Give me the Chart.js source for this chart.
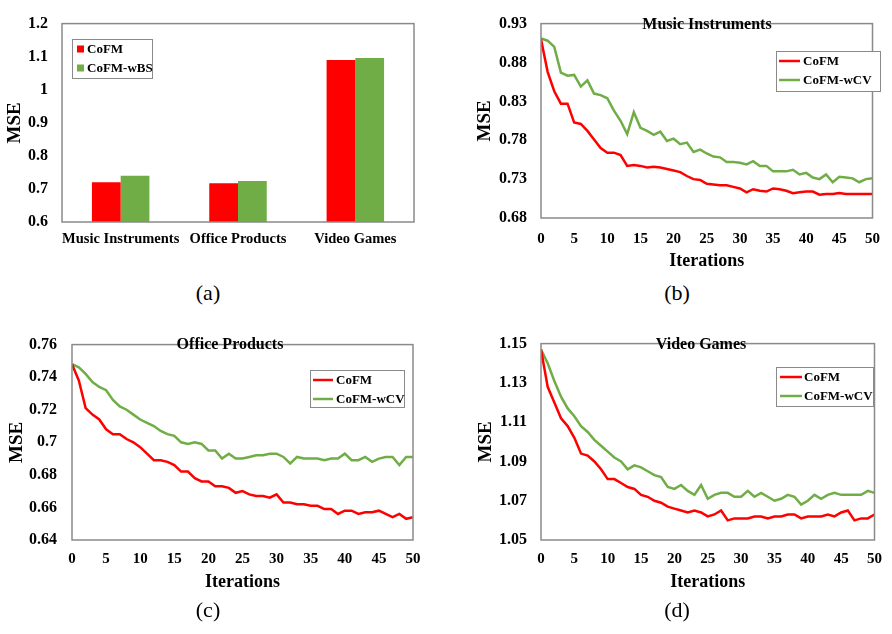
<!DOCTYPE html>
<html><head><meta charset="utf-8">
<script src="https://cdn.jsdelivr.net/npm/chart.js@4"></script>
<style>
body{margin:0;background:#fff;width:892px;height:634px;position:relative;overflow:hidden}
canvas{position:absolute}
.cap{position:absolute;font-family:"Liberation Serif",serif;font-size:22px;transform:translate(-50%,-50%);line-height:1}
</style></head><body>
<canvas id="ca" width="440" height="270" style="left:0;top:0"></canvas>
<canvas id="cb" width="432" height="280" style="left:460px;top:0"></canvas>
<canvas id="cc" width="440" height="290" style="left:0;top:320px"></canvas>
<canvas id="cd" width="442" height="290" style="left:450px;top:320px"></canvas>
<div class="cap" style="left:208px;top:293px">(a)</div>
<div class="cap" style="left:677px;top:293px">(b)</div>
<div class="cap" style="left:208px;top:610px">(c)</div>
<div class="cap" style="left:677px;top:610px">(d)</div>
<script>
// ---------- data ----------
const BAR_CATEGORIES = ['Music Instruments', 'Office Products', 'Video Games'];
const BAR_COFM = [0.72, 0.717, 1.09];
const BAR_COFM_WBS = [0.74, 0.724, 1.096];
const BAR_Y_TICKS = [0.6, 0.7, 0.8, 0.9, 1, 1.1, 1.2];

const ITERATIONS = [0,1,2,3,4,5,6,7,8,9,10,11,12,13,14,15,16,17,18,19,20,21,22,23,24,25,26,27,28,29,30,31,32,33,34,35,36,37,38,39,40,41,42,43,44,45,46,47,48,49,50];
const X_TICKS = [0,5,10,15,20,25,30,35,40,45,50];

const MUSIC_COFM = [0.910,0.868,0.843,0.827,0.827,0.803,0.801,0.792,0.781,0.770,0.764,0.764,0.761,0.747,0.748,0.747,0.745,0.746,0.745,0.743,0.741,0.739,0.734,0.730,0.729,0.724,0.723,0.722,0.722,0.720,0.718,0.713,0.717,0.715,0.714,0.718,0.717,0.715,0.712,0.713,0.714,0.714,0.710,0.711,0.711,0.712,0.711,0.711,0.711,0.711,0.711];
const MUSIC_WCV = [0.911,0.908,0.900,0.867,0.863,0.864,0.849,0.857,0.840,0.838,0.834,0.818,0.805,0.788,0.816,0.796,0.792,0.787,0.791,0.779,0.782,0.775,0.777,0.765,0.768,0.763,0.759,0.758,0.752,0.752,0.751,0.749,0.753,0.747,0.747,0.740,0.740,0.740,0.742,0.736,0.738,0.732,0.730,0.736,0.726,0.733,0.732,0.731,0.726,0.730,0.731];
const MUSIC_Y_TICKS = [0.68, 0.73, 0.78, 0.83, 0.88, 0.93];

const OFFICE_COFM = [0.748,0.738,0.721,0.717,0.714,0.708,0.705,0.705,0.702,0.700,0.697,0.693,0.689,0.689,0.688,0.686,0.682,0.682,0.678,0.676,0.676,0.673,0.673,0.672,0.669,0.670,0.668,0.667,0.667,0.666,0.668,0.663,0.663,0.662,0.662,0.661,0.661,0.659,0.659,0.656,0.658,0.658,0.656,0.657,0.657,0.658,0.656,0.654,0.656,0.653,0.654];
const OFFICE_WCV = [0.748,0.746,0.742,0.737,0.734,0.732,0.726,0.722,0.720,0.717,0.714,0.712,0.710,0.707,0.705,0.704,0.700,0.699,0.700,0.699,0.695,0.695,0.690,0.693,0.690,0.690,0.691,0.692,0.692,0.693,0.693,0.691,0.687,0.691,0.690,0.690,0.690,0.689,0.690,0.690,0.693,0.689,0.689,0.691,0.688,0.690,0.691,0.691,0.686,0.691,0.691];
const OFFICE_Y_TICKS = [0.64, 0.66, 0.68, 0.7, 0.72, 0.74, 0.76];

const VIDEO_COFM = [1.147,1.128,1.120,1.112,1.108,1.102,1.094,1.093,1.090,1.086,1.081,1.081,1.079,1.077,1.076,1.073,1.072,1.070,1.069,1.067,1.066,1.065,1.064,1.065,1.064,1.062,1.063,1.065,1.060,1.061,1.061,1.061,1.062,1.062,1.061,1.062,1.062,1.063,1.063,1.061,1.062,1.062,1.062,1.063,1.062,1.064,1.065,1.060,1.061,1.061,1.063];
const VIDEO_WCV = [1.147,1.140,1.131,1.123,1.117,1.113,1.108,1.105,1.101,1.098,1.095,1.092,1.090,1.086,1.088,1.087,1.085,1.083,1.082,1.077,1.076,1.078,1.075,1.073,1.078,1.071,1.073,1.074,1.074,1.072,1.072,1.075,1.072,1.074,1.072,1.070,1.071,1.073,1.072,1.068,1.070,1.073,1.071,1.073,1.074,1.073,1.073,1.073,1.073,1.075,1.074];
const VIDEO_Y_TICKS = [1.05, 1.07, 1.09, 1.11, 1.13, 1.15];

const SERIES_COFM = 'CoFM';
const SERIES_WBS = 'CoFM-wBS';
const SERIES_WCV = 'CoFM-wCV';
const TITLE_B = 'Music Instruments';
const TITLE_C = 'Office Products';
const TITLE_D = 'Video Games';
const Y_TITLE = 'MSE';
const X_TITLE = 'Iterations';

// ---------- styles ----------
const RED = '#FF0000';
const GREEN = '#70AD47';
const SERIF = '"Liberation Serif", "Times New Roman", serif';
const FRAME = '#8a8a8a';

Chart.defaults.font.family = SERIF;
Chart.defaults.color = '#000';
Chart.defaults.animation = false;

const fmt = v => String(parseFloat(Number(v).toFixed(4)));

const frame = {
  id: 'frame',
  afterDatasetsDraw(chart) {
    const {ctx, chartArea: a} = chart;
    ctx.save();
    ctx.strokeStyle = FRAME; ctx.lineWidth = 1.5;
    ctx.strokeRect(a.left, a.top, a.right - a.left, a.bottom - a.top);
    ctx.restore();
  }
};
const innerTitle = {
  id: 'innerTitle',
  afterDraw(chart, args, o) {
    if (!o.text) return;
    const ctx = chart.ctx;
    ctx.save();
    ctx.font = 'bold 16px ' + SERIF;
    ctx.fillStyle = '#000'; ctx.textAlign = 'center'; ctx.textBaseline = 'middle';
    ctx.fillText(o.text, o.x, o.y);
    ctx.restore();
  }
};
const boxLegend = {
  id: 'boxLegend',
  afterDraw(chart, args, o) {
    if (!o.w) return;
    const ctx = chart.ctx;
    ctx.save();
    ctx.fillStyle = '#fff';
    ctx.fillRect(o.x, o.y, o.w, o.h);
    ctx.strokeStyle = FRAME; ctx.lineWidth = 1;
    ctx.strokeRect(o.x + 0.5, o.y + 0.5, o.w, o.h);
    ctx.font = 'bold 13px ' + SERIF;
    ctx.textBaseline = 'middle'; ctx.textAlign = 'left';
    chart.data.datasets.forEach((ds, i) => {
      const y = o.y + o.rows[i];
      if (o.kind === 'line') {
        ctx.strokeStyle = ds.borderColor; ctx.lineWidth = 2.5;
        ctx.beginPath(); ctx.moveTo(o.x + o.mx, y); ctx.lineTo(o.x + o.mx + o.mw, y); ctx.stroke();
      } else {
        ctx.fillStyle = ds.backgroundColor;
        ctx.fillRect(o.x + o.mx, y - 3.5, o.mw, 7);
      }
      ctx.fillStyle = '#000';
      ctx.fillText(ds.label, o.x + o.tx, y + 0.5);
    });
    ctx.restore();
  }
};

function yAxis(ticksArr, width, titlePad, tickPad, fontSize) {
  return {
    type: 'linear',
    min: ticksArr[0], max: ticksArr[ticksArr.length - 1],
    grid: {display: false, drawTicks: false},
    border: {display: false},
    ticks: {stepSize: ticksArr[1] - ticksArr[0], padding: tickPad, font: {size: fontSize, weight: 'bold'}, callback: fmt, color: '#000'},
    title: {display: true, text: Y_TITLE, font: {size: 19, weight: 'bold'}, padding: {top: titlePad, bottom: 0}, color: '#000'},
    afterFit(s) { s.width = width; }
  };
}
function xLinear(height, tickPad, titlePadBottom) {
  return {
    type: 'linear',
    min: X_TICKS[0], max: X_TICKS[X_TICKS.length - 1],
    grid: {display: false, drawTicks: false},
    border: {display: false},
    ticks: {stepSize: X_TICKS[1] - X_TICKS[0], padding: tickPad, maxRotation: 0, autoSkip: false, font: {size: 15, weight: 'bold'}, color: '#000'},
    title: {display: true, text: X_TITLE, font: {size: 18, weight: 'bold'}, padding: {top: 0, bottom: titlePadBottom}, color: '#000'},
    afterFit(s) { s.height = height; }
  };
}
function lineDatasets(a, b) {
  return [
    {label: SERIES_COFM, data: ITERATIONS.map((x, i) => ({x, y: a[i]})), borderColor: RED, backgroundColor: RED, borderWidth: 2.5, pointRadius: 0, tension: 0, fill: false},
    {label: SERIES_WCV, data: ITERATIONS.map((x, i) => ({x, y: b[i]})), borderColor: GREEN, backgroundColor: GREEN, borderWidth: 2.5, pointRadius: 0, tension: 0, fill: false}
  ];
}

// ---------- (a) bars ----------
new Chart(document.getElementById('ca'), {
  type: 'bar',
  data: {
    labels: BAR_CATEGORIES,
    datasets: [
      {label: SERIES_COFM, data: BAR_COFM, backgroundColor: RED, borderWidth: 0},
      {label: SERIES_WBS, data: BAR_COFM_WBS, backgroundColor: GREEN, borderWidth: 0}
    ]
  },
  options: {
    responsive: false,
    layout: {padding: {top: 8, right: 26, left: 0, bottom: 0}},
    datasets: {bar: {categoryPercentage: 0.49, barPercentage: 1}},
    plugins: {legend: {display: false}, tooltip: {enabled: false},
      boxLegend: {x: 72, y: 39, w: 80, h: 39, rows: [10, 29], kind: 'box', mx: 5, mw: 7, tx: 15}},
    scales: {
      x: {grid: {display: false, drawTicks: false}, border: {display: false},
          ticks: {padding: 9, maxRotation: 0, autoSkip: false, font: {size: 14.5, weight: 'bold'}, color: '#000'},
          afterFit(s) { s.height = 48; }},
      y: yAxis(BAR_Y_TICKS, 62, 4, 14, 16)
    }
  },
  plugins: [frame, boxLegend]
});

// ---------- (b) ----------
new Chart(document.getElementById('cb'), {
  type: 'line',
  data: {datasets: lineDatasets(MUSIC_COFM, MUSIC_WCV)},
  options: {
    responsive: false,
    layout: {padding: {top: 7, right: 11, left: 0, bottom: 0}},
    plugins: {legend: {display: false}, tooltip: {enabled: false},
      innerTitle: {text: TITLE_B, x: 247, y: 25},
      boxLegend: {x: 316, y: 51, w: 104, h: 40, rows: [10, 29], kind: 'line', mx: 3, mw: 21, tx: 27}},
    scales: {x: xLinear(62, 12, 8), y: yAxis(MUSIC_Y_TICKS, 81, 14, 14, 16)}
  },
  plugins: [frame, innerTitle, boxLegend]
});

// ---------- (c) ----------
new Chart(document.getElementById('cc'), {
  type: 'line',
  data: {datasets: lineDatasets(OFFICE_COFM, OFFICE_WCV)},
  options: {
    responsive: false,
    layout: {padding: {top: 9, right: 27, left: 0, bottom: 0}},
    plugins: {legend: {display: false}, tooltip: {enabled: false},
      innerTitle: {text: TITLE_C, x: 230, y: 25},
      boxLegend: {x: 310, y: 50, w: 94, h: 37, rows: [10, 29], kind: 'line', mx: 3, mw: 20, tx: 26}},
    scales: {x: xLinear(70, 10, 17), y: yAxis(OFFICE_Y_TICKS, 72, 6, 15, 16)}
  },
  plugins: [frame, innerTitle, boxLegend]
});

// ---------- (d) ----------
new Chart(document.getElementById('cd'), {
  type: 'line',
  data: {datasets: lineDatasets(VIDEO_COFM, VIDEO_WCV)},
  options: {
    responsive: false,
    layout: {padding: {top: 7, right: 9, left: 0, bottom: 0}},
    plugins: {legend: {display: false}, tooltip: {enabled: false},
      innerTitle: {text: TITLE_D, x: 251, y: 25},
      boxLegend: {x: 326, y: 47, w: 97, h: 39, rows: [10, 29], kind: 'line', mx: 4, mw: 22, tx: 28}},
    scales: {x: xLinear(70, 10, 17), y: yAxis(VIDEO_Y_TICKS, 91, 25, 14, 16)}
  },
  plugins: [frame, innerTitle, boxLegend]
});
</script>
</body></html>
